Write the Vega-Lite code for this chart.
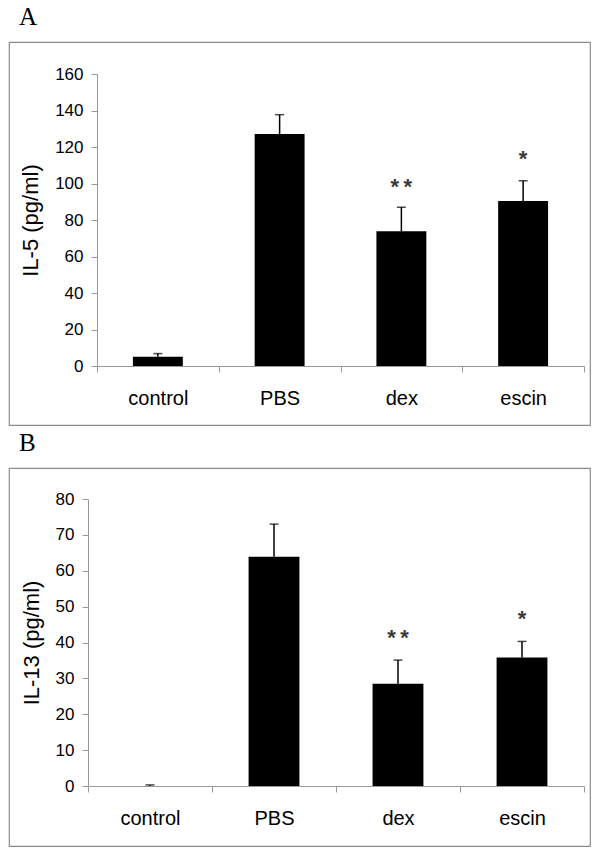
{
  "$schema": "https://vega.github.io/schema/vega-lite/v6.json",
  "padding": {"left": 8, "top": 4, "right": 5, "bottom": 5},
  "spacing": 4,
  "background": "white",
  "config": {
    "view": {"stroke": "#8c8c8c", "strokeWidth": 1.2},
    "font": "Liberation Sans",
    "axis": {"domainColor": "#999999", "tickColor": "#999999", "labelColor": "#000000", "titleColor": "#000000", "labelFont": "Liberation Sans", "titleFont": "Liberation Sans", "titleFontWeight": "normal", "grid": false, "domainWidth": 1, "tickWidth": 1},
    "title": {"anchor": "start", "dx": 10, "font": "Liberation Serif", "fontSize": 25, "fontWeight": "normal", "color": "#000000", "offset": 12, "baseline": "alphabetic"}
  },
  "vconcat": [
    {
      "title": "A",
      "width": 581,
      "height": 383,
      "data": {"values": [
        {"group": "control", "value": 5.1, "high": 6.8, "star": null, "sig": null},
        {"group": "PBS", "value": 127.1, "high": 137.7, "star": null, "sig": null},
        {"group": "dex", "value": 73.8, "high": 87.0, "star": 98.5, "sig": "*\u2009*"},
        {"group": "escin", "value": 90.4, "high": 101.5, "star": 113.8, "sig": "*"}
      ]},
      "layer": [
        {
          "mark": {"type": "bar", "color": "#000000", "width": {"band": 0.41}},
          "encoding": {
            "x": {"field": "group", "type": "nominal", "sort": null, "title": null,
              "scale": {"range": [88, 575], "paddingInner": 0, "paddingOuter": 0},
              "axis": {"offset": -59, "labelAngle": 0, "labelFontSize": 20, "tickSize": 6, "labelPadding": 16, "tickBand": "extent"}},
            "y": {"field": "value", "type": "quantitative", "title": "IL-5 (pg/ml)",
              "scale": {"domain": [0, 160], "range": [324, 32], "nice": false},
              "axis": {"offset": -88, "values": [0, 20, 40, 60, 80, 100, 120, 140, 160], "labelFontSize": 17, "titleFontSize": 22, "titlePadding": 12, "tickSize": 6, "labelPadding": 8}}
          }
        },
        {
          "mark": {"type": "rule", "color": "#000000", "strokeWidth": 1.5},
          "encoding": {
            "x": {"field": "group", "type": "nominal", "sort": null, "title": null},
            "y": {"field": "value", "type": "quantitative", "title": "IL-5 (pg/ml)"},
            "y2": {"field": "high"}
          }
        },
        {
          "mark": {"type": "tick", "color": "#000000", "size": 9, "thickness": 1.5, "orient": "horizontal"},
          "encoding": {
            "x": {"field": "group", "type": "nominal", "sort": null, "title": null},
            "y": {"field": "high", "type": "quantitative", "title": "IL-5 (pg/ml)"}
          }
        },
        {
          "transform": [{"filter": "isValid(datum.sig)"}],
          "mark": {"type": "text", "color": "#3a3a3a", "fontSize": 22, "fontWeight": "bold", "baseline": "middle", "dy": 1},
          "encoding": {
            "x": {"field": "group", "type": "nominal", "sort": null, "title": null},
            "y": {"field": "star", "type": "quantitative", "title": "IL-5 (pg/ml)"},
            "text": {"field": "sig"}
          }
        }
      ]
    },
    {
      "title": "B",
      "width": 581,
      "height": 378,
      "data": {"values": [
        {"group": "control", "value": 0, "high": 0.3, "star": null, "sig": null},
        {"group": "PBS", "value": 63.9, "high": 73.0, "star": null, "sig": null},
        {"group": "dex", "value": 28.5, "high": 35.1, "star": 41.4, "sig": "*\u2009*"},
        {"group": "escin", "value": 35.8, "high": 40.3, "star": 46.7, "sig": "*"}
      ]},
      "layer": [
        {
          "mark": {"type": "bar", "color": "#000000", "width": {"band": 0.41}},
          "encoding": {
            "x": {"field": "group", "type": "nominal", "sort": null, "title": null,
              "scale": {"range": [79, 575], "paddingInner": 0, "paddingOuter": 0},
              "axis": {"offset": -60, "labelAngle": 0, "labelFontSize": 20, "tickSize": 6, "labelPadding": 16, "tickBand": "extent"}},
            "y": {"field": "value", "type": "quantitative", "title": "IL-13 (pg/ml)",
              "scale": {"domain": [0, 80], "range": [318, 31], "nice": false},
              "axis": {"offset": -79, "values": [0, 10, 20, 30, 40, 50, 60, 70, 80], "labelFontSize": 17, "titleFontSize": 22, "titlePadding": 12, "tickSize": 6, "labelPadding": 8}}
          }
        },
        {
          "mark": {"type": "rule", "color": "#000000", "strokeWidth": 1.5},
          "encoding": {
            "x": {"field": "group", "type": "nominal", "sort": null, "title": null},
            "y": {"field": "value", "type": "quantitative", "title": "IL-13 (pg/ml)"},
            "y2": {"field": "high"}
          }
        },
        {
          "mark": {"type": "tick", "color": "#000000", "size": 9, "thickness": 1.5, "orient": "horizontal"},
          "encoding": {
            "x": {"field": "group", "type": "nominal", "sort": null, "title": null},
            "y": {"field": "high", "type": "quantitative", "title": "IL-13 (pg/ml)"}
          }
        },
        {
          "transform": [{"filter": "isValid(datum.sig)"}],
          "mark": {"type": "text", "color": "#3a3a3a", "fontSize": 22, "fontWeight": "bold", "baseline": "middle", "dy": 1},
          "encoding": {
            "x": {"field": "group", "type": "nominal", "sort": null, "title": null},
            "y": {"field": "star", "type": "quantitative", "title": "IL-13 (pg/ml)"},
            "text": {"field": "sig"}
          }
        }
      ]
    }
  ]
}
